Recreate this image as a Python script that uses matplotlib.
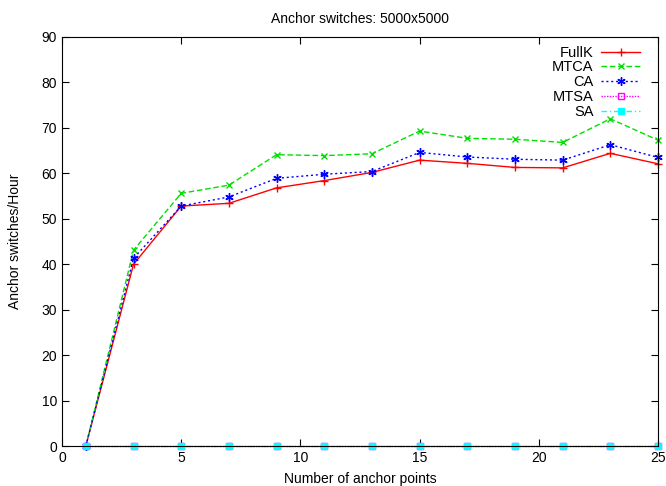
import matplotlib
matplotlib.use("Agg")
import matplotlib.pyplot as plt

plt.rcParams['font.family'] = ['Liberation Sans', 'DejaVu Sans']

x = [1, 3, 5, 7, 9, 11, 13, 15, 17, 19, 21, 23, 25]
fullk = [0, 40.0, 52.8, 53.4, 56.8, 58.4, 60.2, 62.9, 62.2, 61.3, 61.2, 64.4, 62.1]
mtca = [0, 43.1, 55.6, 57.4, 64.1, 63.9, 64.3, 69.3, 67.7, 67.5, 66.8, 72.0, 67.3]
ca = [0, 41.3, 52.8, 54.8, 58.9, 59.8, 60.4, 64.6, 63.6, 63.1, 62.9, 66.3, 63.5]
mtsa = [0] * 13
sa = [0] * 13

fig = plt.figure(figsize=(6.66, 4.86), dpi=100)
ax = fig.add_axes([62/666, 40/486, 596/666, 409/486])

ax.plot(x, fullk, color='red', lw=1, ls='-', marker='+', ms=6, label='FullK', clip_on=False)
ax.plot(x, mtca, color='#00e000', lw=1, ls=(0, (4, 2)), marker='x', ms=5, label='MTCA', clip_on=False)
ax.plot(x, ca, color='blue', lw=1, ls=(0, (1.5, 2)), marker=(6, 2, 0), ms=6, label='CA', clip_on=False)
ax.plot(x, mtsa, color='magenta', lw=1, ls=(0, (1, 1)), marker='s', ms=5,
        mfc='none', mew=1, label='MTSA', clip_on=False)
ax.plot(x, sa, color='cyan', lw=1, ls=(0, (4, 2, 1, 2)), marker='s', ms=5,
        mec='cyan', label='SA', clip_on=False)

ax.set_xlim(0, 25)
ax.set_ylim(0, 90)
ax.set_xticks(range(0, 26, 5))
ax.set_yticks(range(0, 91, 10))
ax.tick_params(direction='in', top=True, right=True, length=5, labelsize=10)
ax.set_title('Anchor switches: 5000x5000', fontsize=10, pad=10)
ax.set_xlabel('Number of anchor points', fontsize=10, labelpad=5)
ax.set_ylabel('Anchor switches/Hour', fontsize=10, labelpad=14)

leg = ax.legend(loc='upper right', markerfirst=False, frameon=False, fontsize=10.5,
                handlelength=2.7, handletextpad=0.5, labelspacing=0.05,
                borderaxespad=0.2, bbox_to_anchor=(0.985, 1.0))
for t in leg.get_texts():
    t.set_ha('right')

fig.savefig('out.png', dpi=100)
